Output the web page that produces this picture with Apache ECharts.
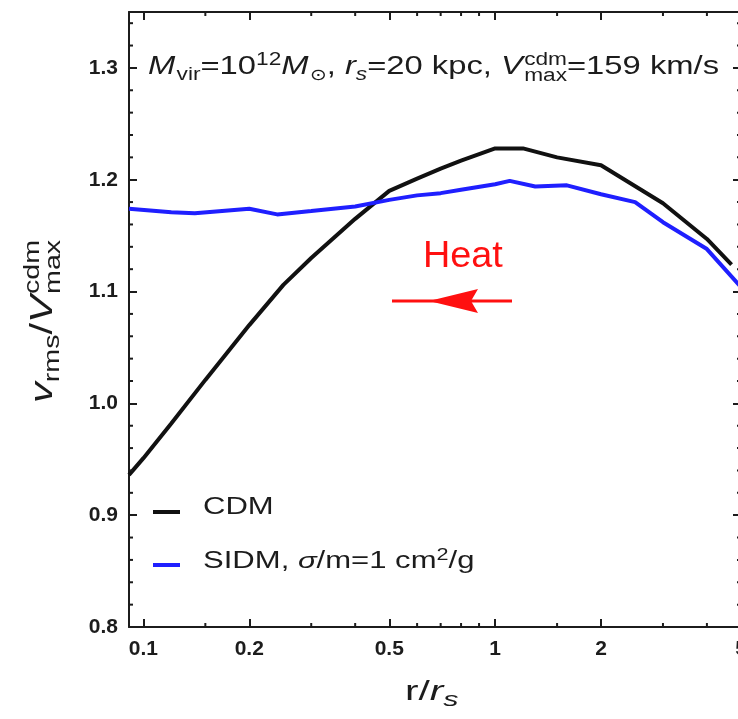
<!DOCTYPE html>
<html>
<head>
<meta charset="utf-8">
<script src="https://cdn.jsdelivr.net/npm/echarts@6/dist/echarts.min.js"></script>
<style>
  html, body { margin: 0; padding: 0; background: #ffffff; }
  #chart { width: 738px; height: 719px; }
</style>
</head>
<body>
<div id="chart"></div>
<script>
// Radius in units of the scale radius r_s, and v_rms / V_max^cdm
const cdmR  = [0.091, 0.1, 0.12, 0.15, 0.2, 0.25, 0.3, 0.4, 0.5, 0.6, 0.7, 0.8, 1.0, 1.2, 1.5, 2.0, 3.0, 4.0, 4.7];
const cdmV  = [0.936, 0.951, 0.982, 1.021, 1.070, 1.106, 1.130, 1.165, 1.190, 1.201, 1.210, 1.217, 1.228, 1.228, 1.220, 1.213, 1.179, 1.147, 1.124];
const sidmR = [0.091, 0.12, 0.14, 0.2, 0.24, 0.3, 0.4, 0.5, 0.6, 0.7, 0.8, 1.0, 1.1, 1.3, 1.6, 2.0, 2.5, 3.0, 4.0, 5.0];
const sidmV = [1.174, 1.171, 1.170, 1.174, 1.169, 1.172, 1.176, 1.182, 1.186, 1.188, 1.191, 1.196, 1.199, 1.194, 1.195, 1.187, 1.180, 1.162, 1.138, 1.104];

// Axis ranges and ticks
const rMin = 0.091, rMax = 5;
const vMin = 0.8, vMax = 1.35;
const xMajorTicks = [0.1, 0.2, 0.5, 1, 2, 5];
const xMinorTicks = [0.15, 0.3, 0.4, 0.6, 0.7, 0.8, 0.9, 1.5, 3, 4];
const yMajorTicks = [0.8, 0.9, 1.0, 1.1, 1.2, 1.3];
const yMinorTicks = [0.82, 0.84, 0.86, 0.88, 0.92, 0.94, 0.96, 0.98, 1.02, 1.04, 1.06, 1.08,
                     1.12, 1.14, 1.16, 1.18, 1.22, 1.24, 1.26, 1.28, 1.32, 1.34];

const FONT = '"Liberation Sans", "DejaVu Sans", Arial, sans-serif';
const INK = '#1c1c1c';
const MAJOR_LEN = 8, MINOR_LEN = 4;
const lg = Math.log10;

// ---- small typesetting helper: sub/superscripts laid out with measured widths ----
const measureCtx = document.createElement('canvas').getContext('2d');
function fontStr(size, italic, bold) {
  return (italic ? 'italic ' : '') + (bold ? 'bold ' : '') + size + 'px ' + FONT;
}
function mathText(tokens, opt) {
  const children = [];
  let x = 0, prevX = 0;
  tokens.forEach(tk => {
    const size = tk.size || opt.size;
    const font = fontStr(size, tk.italic, opt.bold);
    measureCtx.font = font;
    const w = measureCtx.measureText(tk.t).width;
    let tx;
    if (tk.stack) { tx = prevX; x = Math.max(x, prevX + w); }
    else { tx = x; prevX = x; x += w; }
    x += tk.gap || 0;
    children.push({
      type: 'text',
      x: tx,
      y: (tk.dy || 0) - 0.35 * size,
      style: { text: tk.t, font: font, fill: opt.color || INK, align: 'left', verticalAlign: 'middle' }
    });
  });
  return {
    type: 'group', x: opt.x, y: opt.y, rotation: opt.rotation || 0,
    scaleX: opt.scaleX || 1, scaleY: 1, z: 100, children: children
  };
}

function xAxisCfg(position, withLabels) {
  return {
    type: 'value', position: position, min: lg(rMin), max: lg(rMax),
    axisLine: { show: true, onZero: false, lineStyle: { color: INK, width: 2 } },
    axisTick: { show: true, inside: true, length: MAJOR_LEN, customValues: xMajorTicks.map(lg),
                lineStyle: { color: INK, width: 2 } },
    axisLabel: withLabels ? {
      show: true, customValues: xMajorTicks.map(lg), margin: 12,
      formatter: v => String(Math.round(Math.pow(10, v) * 100) / 100),
      fontFamily: FONT, fontSize: 21, fontWeight: 'bold', color: INK
    } : { show: false },
    splitLine: { show: false }
  };
}
function yAxisCfg(position, withLabels) {
  return {
    type: 'value', position: position, min: vMin, max: vMax,
    axisLine: { show: true, onZero: false, lineStyle: { color: INK, width: 2 } },
    axisTick: { show: true, inside: true, length: MAJOR_LEN, customValues: yMajorTicks,
                lineStyle: { color: INK, width: 2 } },
    axisLabel: withLabels ? {
      show: true, customValues: yMajorTicks, margin: 11,
      formatter: v => v.toFixed(1),
      fontFamily: FONT, fontSize: 21, fontWeight: 'bold', color: INK
    } : { show: false },
    splitLine: { show: false }
  };
}

// minor ticks on all four sides of the frame, placed through the axis scales
function minorTickSeries(values, dim) {
  return {
    type: 'custom', xAxisIndex: 0, yAxisIndex: 0, silent: true, clip: false, z: 5,
    data: values,
    renderItem: function (params, api) {
      const v = api.value(0);
      const style = { stroke: INK, lineWidth: 2 };
      if (dim === 'x') {
        const b = api.coord([v, vMin]), t = api.coord([v, vMax]);
        return { type: 'group', children: [
          { type: 'line', shape: { x1: b[0], y1: b[1], x2: b[0], y2: b[1] - MINOR_LEN }, style: style },
          { type: 'line', shape: { x1: t[0], y1: t[1], x2: t[0], y2: t[1] + MINOR_LEN }, style: style }
        ] };
      }
      const l = api.coord([lg(rMin), v]), r = api.coord([lg(rMax), v]);
      return { type: 'group', children: [
        { type: 'line', shape: { x1: l[0], y1: l[1], x2: l[0] + MINOR_LEN, y2: l[1] }, style: style },
        { type: 'line', shape: { x1: r[0], y1: r[1], x2: r[0] - MINOR_LEN, y2: r[1] }, style: style }
      ] };
    }
  };
}

const chart = echarts.init(document.getElementById('chart'), null, { renderer: 'canvas' });

const option = {
  animation: false,
  backgroundColor: '#ffffff',
  grid: { left: 129, top: 12, width: 612, height: 615, containLabel: false, outerBoundsMode: 'none' },
  xAxis: [ xAxisCfg('bottom', true), xAxisCfg('top', false) ],
  yAxis: [ yAxisCfg('left', true), yAxisCfg('right', false) ],
  series: [
    minorTickSeries(xMinorTicks.map(lg), 'x'),
    minorTickSeries(yMinorTicks, 'y'),
    {
      name: 'CDM', type: 'line', xAxisIndex: 0, yAxisIndex: 0,
      data: cdmR.map((r, i) => [lg(r), cdmV[i]]),
      showSymbol: false, smooth: false, clip: true,
      lineStyle: { color: '#111111', width: 4 }, z: 3
    },
    {
      name: 'SIDM', type: 'line', xAxisIndex: 0, yAxisIndex: 0,
      data: sidmR.map((r, i) => [lg(r), sidmV[i]]),
      showSymbol: false, smooth: false, clip: true,
      lineStyle: { color: '#1f1fff', width: 4 }, z: 4
    }
  ],
  graphic: [
    // halo parameters
    mathText([
      { t: 'M', italic: true, gap: 1 },
      { t: 'vir', size: 18, dy: 5 },
      { t: '=10' },
      { t: '12', size: 18, dy: -10 },
      { t: 'M', italic: true, gap: 1 },
      { t: '\u2299', size: 16, dy: 5 },
      { t: ', ' },
      { t: 'r', italic: true },
      { t: 's', italic: true, size: 18, dy: 5 },
      { t: '=20 kpc, ' },
      { t: 'V', italic: true, gap: 1 },
      { t: 'cdm', size: 18, dy: -10 },
      { t: 'max', size: 18, dy: 6, stack: true },
      { t: '=159 km/s' }
    ], { x: 148, y: 76, size: 26, scaleX: 1.26 }),

    // y-axis title
    mathText([
      { t: 'v', italic: true },
      { t: 'rms', size: 22, dy: 7 },
      { t: '/' },
      { t: 'V', italic: true, gap: 1 },
      { t: 'cdm', size: 22, dy: -13 },
      { t: 'max', size: 22, dy: 8, stack: true }
    ], { x: 54, y: 403, size: 32, scaleX: 1.3, rotation: Math.PI / 2 }),

    // x-axis title
    mathText([
      { t: 'r' },
      { t: '/' },
      { t: 'r', italic: true },
      { t: 's', italic: true, size: 21, dy: 6 }
    ], { x: 405, y: 702, size: 28, scaleX: 1.45 }),

    // legend
    { type: 'line', z: 100, shape: { x1: 153, y1: 512, x2: 180, y2: 512 },
      style: { stroke: '#111111', lineWidth: 4 } },
    mathText([{ t: 'CDM' }], { x: 203, y: 516, size: 23, scaleX: 1.35 }),
    { type: 'line', z: 100, shape: { x1: 153, y1: 565, x2: 180, y2: 565 },
      style: { stroke: '#1f1fff', lineWidth: 4 } },
    mathText([
      { t: 'SIDM, ' },
      { t: '\u03c3', italic: true },
      { t: '/m=1 cm' },
      { t: '2', size: 16, dy: -9 },
      { t: '/g' }
    ], { x: 203, y: 570, size: 23, scaleX: 1.35 }),

    // heating direction
    mathText([{ t: 'Heat' }], { x: 423, y: 270, size: 36, scaleX: 1.05, color: '#ff1010' }),
    { type: 'line', z: 100, shape: { x1: 392, y1: 301, x2: 512, y2: 301 },
      style: { stroke: '#ff1010', lineWidth: 3 } },
    { type: 'polygon', z: 100, shape: { points: [[429, 301], [478, 289], [471, 301], [478, 313]] },
      style: { fill: '#ff1010' } }
  ]
};

chart.setOption(option);
</script>
</body>
</html>
